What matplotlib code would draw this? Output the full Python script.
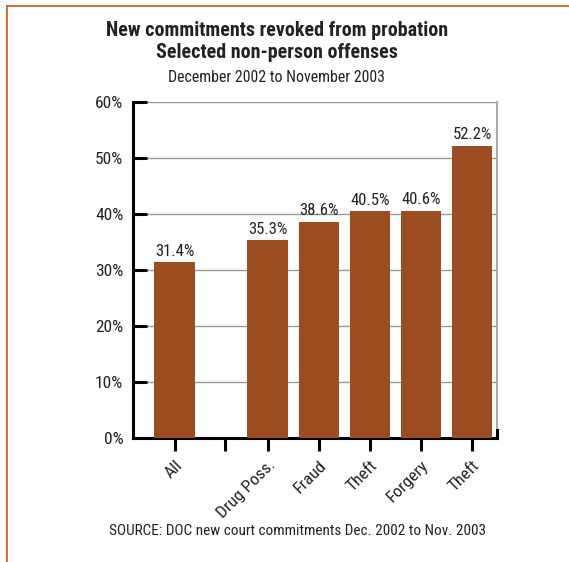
import matplotlib
matplotlib.use("Agg")
import matplotlib.pyplot as plt
from matplotlib import font_manager
from matplotlib.lines import Line2D

categories = ["All", "Drug Poss.", "Fraud", "Theft", "Forgery", "Theft"]
values = [31.4, 35.3, 38.6, 40.5, 40.6, 52.2]
value_labels = ["31.4%", "35.3%", "38.6%", "40.5%", "40.6%", "52.2%"]
y_ticks = [0, 10, 20, 30, 40, 50, 60]
y_tick_labels = ["0%", "10%", "20%", "30%", "40%", "50%", "60%"]

title = "New commitments revoked from probation\nSelected non-person offenses"
subtitle = "December 2002 to November 2003"
source = "SOURCE: DOC new court commitments Dec. 2002 to Nov. 2003"

# bar slots along the x axis; a gap sits after the first bar
positions = [0, 1.83, 2.83, 3.83, 4.83, 5.83]
gap_tick = 0.98

installed = {f.name for f in font_manager.fontManager.ttflist}
family = "Liberation Sans"
for cand in ["Roboto Condensed", "Archivo Narrow", "PT Sans Narrow", "Liberation Sans Narrow",
             "Sofia Sans Semi Condensed", "Asap Condensed"]:
    if cand in installed:
        family = cand
        break
plt.rcParams["font.family"] = [family, "DejaVu Sans"]

bar_color = "#9C4C21"
text_color = "#222222"
border_color = "#C8642E"

fig = plt.figure(figsize=(5.69, 5.62), dpi=100)
W, H = 569, 562

# frame lines along the top and left edges
fig.add_artist(Line2D([7 / W, 1], [1 - 5.5 / H, 1 - 5.5 / H], color=border_color, lw=1.3, transform=fig.transFigure))
fig.add_artist(Line2D([7 / W, 7 / W], [0, 1 - 5.5 / H], color=border_color, lw=1.3, transform=fig.transFigure))

ax = fig.add_axes([133 / W, 1 - 438 / H, (497 - 133) / W, (438 - 102) / H])

ax.bar(positions, values, width=0.80, color=bar_color, zorder=3)
for x, v, lab in zip(positions, values, value_labels):
    ax.text(x, v + 0.6, lab, ha="center", va="bottom", fontsize=12, color=text_color, zorder=4)

ax.set_xlim(-0.814, 6.32)
ax.set_ylim(0, 60)

ax.set_yticks(y_ticks)
ax.set_yticklabels(y_tick_labels, fontsize=12.5, color=text_color)
ax.yaxis.grid(True, color="#999999", lw=1.0, zorder=1)
ax.tick_params(axis="y", direction="in", length=10, width=2.2, color="black", pad=7)

ax.set_xticks(positions[:1] + [gap_tick] + positions[1:])
ax.set_xticklabels(categories[:1] + [""] + categories[1:], rotation=45, ha="right",
                   rotation_mode="anchor", fontsize=12.5, color=text_color)
ax.tick_params(axis="x", direction="out", length=9, width=2.2, color="black", pad=5)

ax.spines["top"].set_visible(False)
ax.spines["left"].set_linewidth(2.2)
ax.spines["bottom"].set_linewidth(2.2)
ax.spines["right"].set_color("#AAAAAA")
ax.spines["right"].set_linewidth(1.5)
ax.plot([6.32, 6.32], [0, 1.5], color="black", lw=2.2, clip_on=False, zorder=5)

fig.text(277 / W, 1 - 41 / H, title, ha="center", va="center", fontsize=14.4,
         fontweight="bold", color=text_color, linespacing=1.2)
fig.text(276 / W, 1 - 77 / H, subtitle, ha="center", va="center", fontsize=11.4, color=text_color)
fig.text(298 / W, 1 - 531 / H, source, ha="center", va="center", fontsize=11, color=text_color)

fig.savefig("out.png", dpi=100)
